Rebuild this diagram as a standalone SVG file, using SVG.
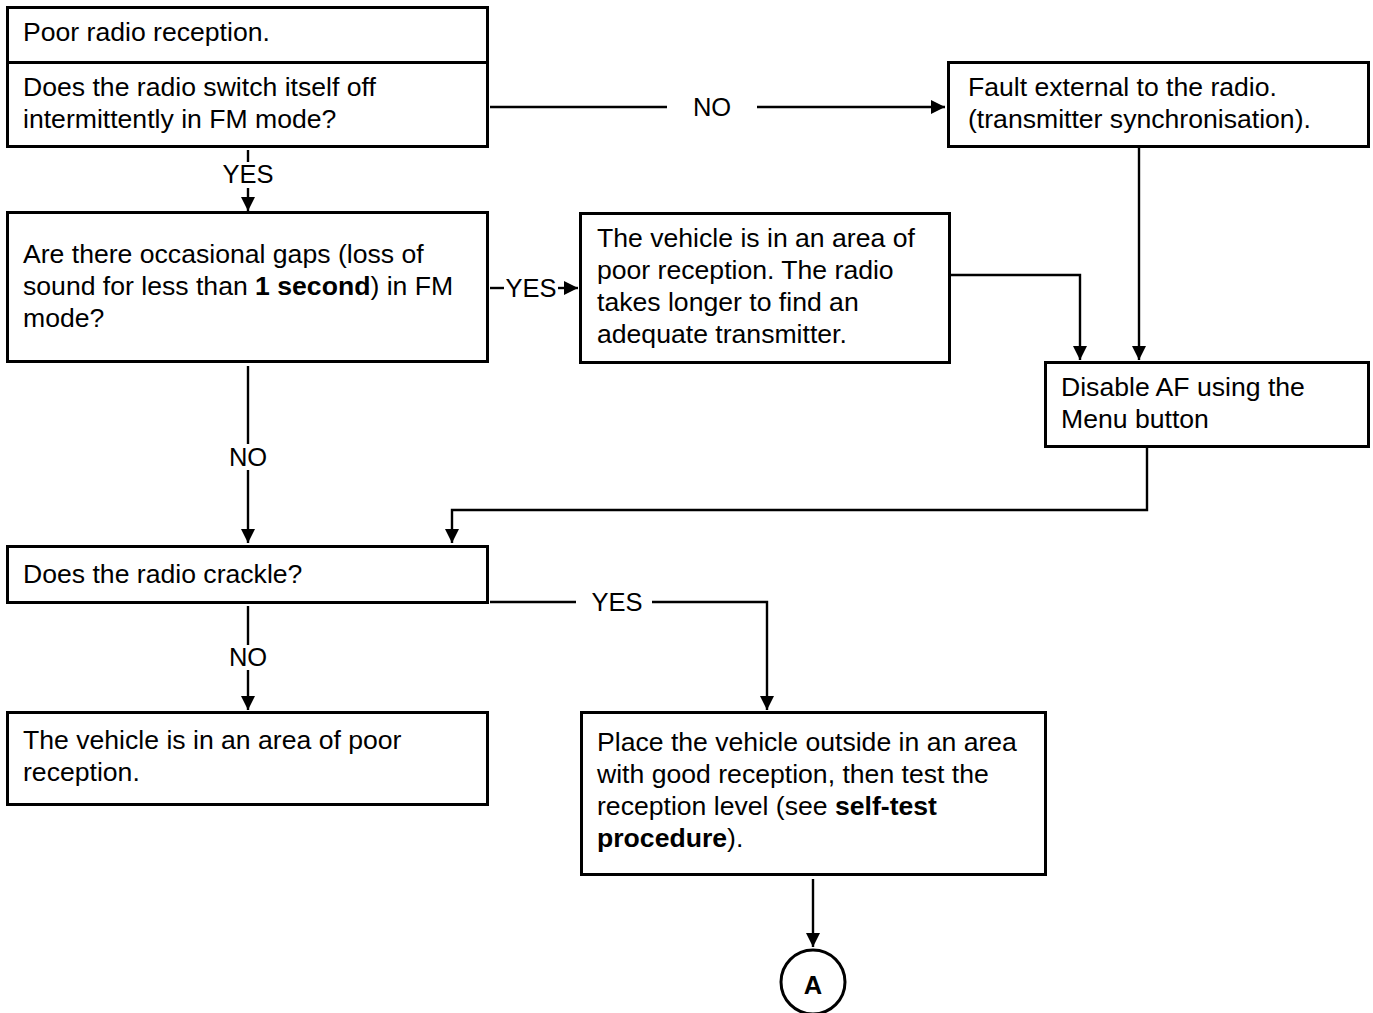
<svg xmlns="http://www.w3.org/2000/svg" width="1373" height="1013" viewBox="0 0 1373 1013">
<style>
.box{fill:#fff;stroke:#000;stroke-width:3}
.t{font-family:"Liberation Sans",Arial,sans-serif;font-size:26.6px;fill:#000}
.lbl{font-family:"Liberation Sans",Arial,sans-serif;font-size:25.5px;fill:#000;text-anchor:middle}
.c{fill:none;stroke:#000;stroke-width:2.4}
.b{font-weight:bold}
</style>
<defs>
<marker id="ah" markerUnits="userSpaceOnUse" markerWidth="16" markerHeight="14" refX="14" refY="7" orient="auto">
<path d="M0,0 L14,7 L0,14 z" fill="#000"/>
</marker>
</defs>
<rect width="1373" height="1013" fill="#fff"/>
<g id="connectors">
<line class="c" x1="248" y1="150" x2="248" y2="162"/>
<text class="lbl" x="248" y="183">YES</text>
<line class="c" x1="248" y1="188" x2="248" y2="211" marker-end="url(#ah)"/>
<line class="c" x1="490" y1="107" x2="667" y2="107"/>
<text class="lbl" x="712" y="116">NO</text>
<line class="c" x1="757" y1="107" x2="945" y2="107" marker-end="url(#ah)"/>
<line class="c" x1="490" y1="288" x2="504" y2="288"/>
<text class="lbl" x="531" y="297">YES</text>
<line class="c" x1="558" y1="288" x2="578" y2="288" marker-end="url(#ah)"/>
<polyline class="c" points="950,275 1080,275 1080,360" marker-end="url(#ah)"/>
<line class="c" x1="1139" y1="148" x2="1139" y2="360" marker-end="url(#ah)"/>
<polyline class="c" points="1147,448 1147,510 452,510 452,543" marker-end="url(#ah)"/>
<line class="c" x1="248" y1="366" x2="248" y2="444"/>
<text class="lbl" x="248" y="466">NO</text>
<line class="c" x1="248" y1="470" x2="248" y2="543" marker-end="url(#ah)"/>
<line class="c" x1="490" y1="602" x2="576" y2="602"/>
<text class="lbl" x="617" y="611">YES</text>
<polyline class="c" points="652,602 767,602 767,710" marker-end="url(#ah)"/>
<line class="c" x1="248" y1="606" x2="248" y2="645"/>
<text class="lbl" x="248" y="666">NO</text>
<line class="c" x1="248" y1="670" x2="248" y2="710" marker-end="url(#ah)"/>
<line class="c" x1="813" y1="879" x2="813" y2="947" marker-end="url(#ah)"/>
</g>
<g id="n1">
<rect class="box" x="7.5" y="7.5" width="480" height="55"/>
<text class="t" x="23" y="41">Poor radio reception.</text>
</g>
<g id="n2">
<rect class="box" x="7.5" y="62.5" width="480" height="84"/>
<text class="t" x="23" y="96">Does the radio switch itself off</text>
<text class="t" x="23" y="128">intermittently in FM mode?</text>
</g>
<g id="n3">
<rect class="box" x="948.5" y="62.5" width="420" height="84"/>
<text class="t" x="968" y="96">Fault external to the radio.</text>
<text class="t" x="968" y="128">(transmitter synchronisation).</text>
</g>
<g id="n4">
<rect class="box" x="7.5" y="212.5" width="480" height="149"/>
<text class="t" x="23" y="263">Are there occasional gaps (loss of</text>
<text class="t" x="23" y="295">sound for less than <tspan class="b">1 second</tspan>) in FM</text>
<text class="t" x="23" y="327">mode?</text>
</g>
<g id="n5">
<rect class="box" x="580.5" y="213.5" width="369" height="149"/>
<text class="t" x="597" y="247">The vehicle is in an area of</text>
<text class="t" x="597" y="279">poor reception. The radio</text>
<text class="t" x="597" y="311">takes longer to find an</text>
<text class="t" x="597" y="343">adequate transmitter.</text>
</g>
<g id="n6">
<rect class="box" x="1045.5" y="362.5" width="323" height="84"/>
<text class="t" x="1061" y="396">Disable AF using the</text>
<text class="t" x="1061" y="428">Menu button</text>
</g>
<g id="n7">
<rect class="box" x="7.5" y="546.5" width="480" height="56"/>
<text class="t" x="23" y="583">Does the radio crackle?</text>
</g>
<g id="n8">
<rect class="box" x="7.5" y="712.5" width="480" height="92"/>
<text class="t" x="23" y="749">The vehicle is in an area of poor</text>
<text class="t" x="23" y="781">reception.</text>
</g>
<g id="n9">
<rect class="box" x="581.5" y="712.5" width="464" height="162"/>
<text class="t" x="597" y="751">Place the vehicle outside in an area</text>
<text class="t" x="597" y="783">with good reception, then test the</text>
<text class="t" x="597" y="815">reception level (see <tspan class="b">self-test</tspan></text>
<text class="t" x="597" y="847"><tspan class="b">procedure</tspan>).</text>
</g>
<g id="nA">
<circle cx="813" cy="982" r="32" fill="#fff" stroke="#000" stroke-width="3"/>
<text class="lbl b" x="813" y="994" font-size="32">A</text>
</g>
</svg>
